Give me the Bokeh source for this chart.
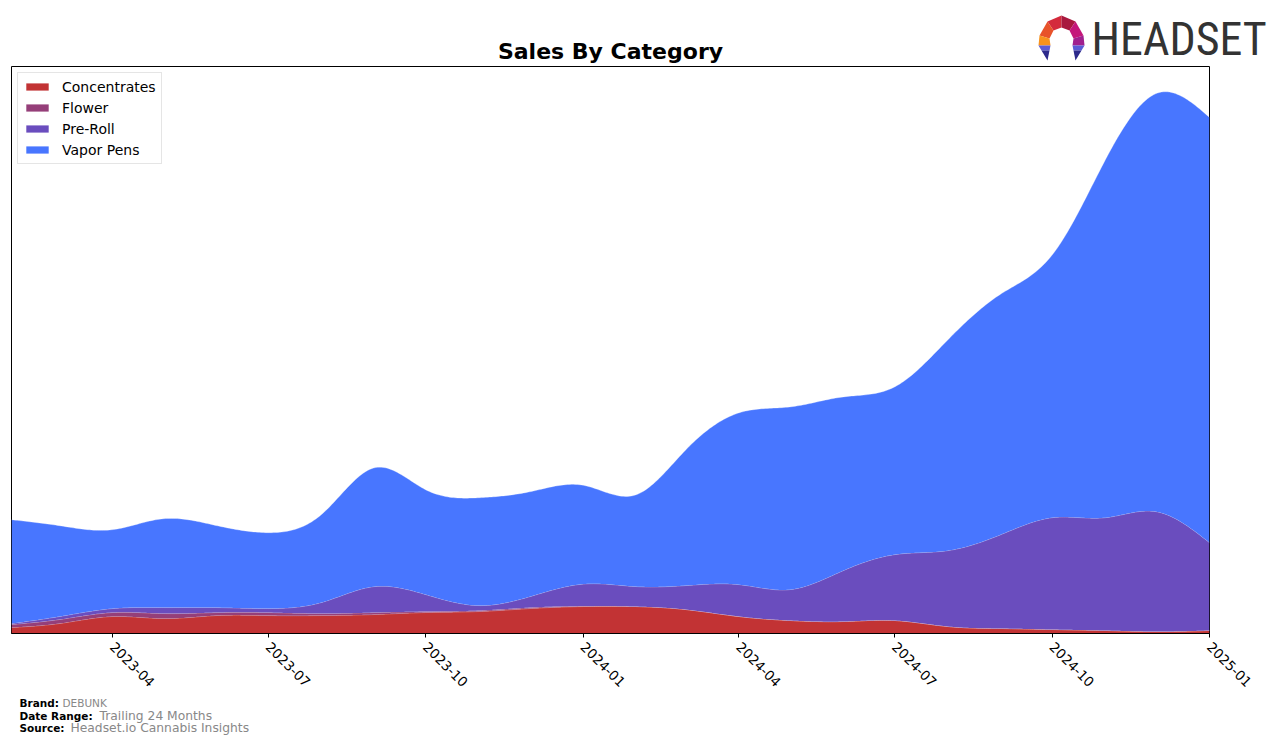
import numpy as np
import pandas as pd
from bokeh.plotting import figure
from bokeh.models import FixedTicker, DatetimeTickFormatter, Range1d
from bokeh.layouts import column
from bokeh.core.properties import value
from bokeh.embed import file_html
from bokeh.resources import INLINE

# ---------------- data (monthly) ----------------
months = pd.date_range("2023-02-01", "2025-01-01", freq="MS")
concentrates = [6, 10, 17, 15, 18, 18, 18, 19, 21, 22, 25, 27,
                27, 24, 17, 13, 12, 13, 7, 5, 4, 3, 2, 3]
flower = [3, 4, 4, 5, 3, 3, 2, 2, 1, 1, 1, 0.5,
          0, 0, 0, 0, 0, 0, 0, 0, 0, 0, 0, 0]
pre_roll = [1, 3, 4, 6, 5, 4, 11, 26, 17, 5, 11, 22,
            20, 24, 32, 31, 51, 66, 76, 94, 112, 113, 120, 88]
vapor_pens = [104, 91, 79, 89, 82, 76, 88, 119, 105, 108, 105, 99,
              92, 136, 172, 183, 174, 168, 211, 241, 263, 358, 419, 426]
series_names = ["Concentrates", "Flower", "Pre-Roll", "Vapor Pens"]
series_colors = ["#C23334", "#953F79", "#6A4DBE", "#4876FF"]
tick_dates = ["2023-04-01", "2023-07-01", "2023-10-01", "2024-01-01",
              "2024-04-01", "2024-07-01", "2024-10-01", "2025-01-01"]
title_text = "Sales By Category"
brand = "DEBUNK"
date_range = "Trailing 24 Months"
source = "Headset.io Cannabis Insights"

# ---------------- smooth rendering (natural cubic spline) ----------------
def natural_spline(x, y, xf):
    x = np.asarray(x, float); y = np.asarray(y, float)
    n = len(x); h = np.diff(x)
    A = np.zeros((n - 2, n - 2)); r = np.zeros(n - 2)
    for i in range(n - 2):
        A[i, i] = 2 * (h[i] + h[i + 1])
        if i + 1 < n - 2:
            A[i, i + 1] = h[i + 1]
            A[i + 1, i] = h[i + 1]
        r[i] = 6 * ((y[i + 2] - y[i + 1]) / h[i + 1] - (y[i + 1] - y[i]) / h[i])
    M = np.zeros(n); M[1:-1] = np.linalg.solve(A, r)
    idx = np.clip(np.searchsorted(x, xf) - 1, 0, n - 2)
    x0 = x[idx]; x1 = x[idx + 1]; hh = h[idx]
    return (M[idx] * (x1 - xf) ** 3 / (6 * hh) + M[idx + 1] * (xf - x0) ** 3 / (6 * hh)
            + (y[idx] / hh - M[idx] * hh / 6) * (x1 - xf)
            + (y[idx + 1] / hh - M[idx + 1] * hh / 6) * (xf - x0))

xms = months.values.astype("datetime64[ms]").astype(np.int64).astype(float)
xf = np.linspace(xms[0], xms[-1], 600)
smooth = [np.clip(natural_spline(xms, s, xf), 0, None)
          for s in (concentrates, flower, pre_roll, vapor_pens)]

# ---------------- layout geometry ----------------
W = 1276
FL, FR = 11, 1209
TOP_H = 66          # title/logo strip
MAIN_H = 628        # 568 frame + 60 axis
FOOT_H = 744 - TOP_H - MAIN_H


def canvas(h, y0):
    f = figure(width=W, height=h, x_range=Range1d(0, W), y_range=Range1d(y0 + h, y0),
               output_backend="svg", toolbar_location=None,
               x_axis_location=None, y_axis_location=None, min_border=0,
               frame_align=False)
    f.xgrid.visible = False
    f.ygrid.visible = False
    f.outline_line_color = None
    f.background_fill_color = "white"
    f.border_fill_color = "white"
    return f


def txt(f, s, x, y, size, bold=False, color="black", align="left", baseline="middle",
        font="DejaVu Sans"):
    f.text(x=[x], y=[y], text=[s], text_font=value(font), text_font_size=value(size),
           text_font_style="bold" if bold else "normal", text_color=color,
           text_align=align, text_baseline=baseline)


# ---------------- top strip: title + logo ----------------
top = canvas(TOP_H, 0)
txt(top, title_text, 610, 51, "22px", bold=True, align="center")
txt(top, "HEADSET", 1091, 38, "46px", color="#333333", baseline="middle",
    font="Roboto Condensed")

Pt, Ptl, Pl, Pbl = (1061, 15), (1047, 21), (1039, 35), (1038, 45)
Ptr, Pr, Pbr = (1075, 21), (1083, 35), (1084, 45)
Qt, Qtl, Ql, Qbl = (1061, 27), (1053, 30), (1049, 38), (1050, 45)
Qtr, Qr, Qbr = (1069, 30), (1073, 38), (1072, 45)
logo_parts = [
    ([Ptl, Pt, Qt, Qtl], "#D42A3C"),
    ([Pt, Ptr, Qtr, Qt], "#A8183E"),
    ([Ptl, Qtl, Ql, Pl], "#E8532A"),
    ([Pl, Ql, Qbl, Pbl], "#F7931E"),
    ([Ptr, Pr, Qr, Qtr], "#C4177A"),
    ([Pr, Pbr, Qbr, Qr], "#A0208E"),
    ([(1038, 45), (1050, 45), (1049, 50), (1041, 50)], "#5B5BD6"),
    ([(1041, 50), (1049, 50), (1047, 60)], "#2D2A8C"),
    ([(1072, 45), (1084, 45), (1081, 50), (1073, 50)], "#5B5BD6"),
    ([(1073, 50), (1081, 50), (1075, 60)], "#2D2A8C"),
]
top.patches(xs=[[a for a, _ in pts] for pts, _ in logo_parts],
            ys=[[b for _, b in pts] for pts, _ in logo_parts],
            fill_color=[c for _, c in logo_parts], line_color=None)

# ---------------- main chart ----------------
p = figure(width=W, height=MAIN_H, x_axis_type="datetime", y_axis_location=None,
           output_backend="svg", toolbar_location=None,
           min_border_left=FL, min_border_right=W - FR,
           min_border_top=0, min_border_bottom=MAIN_H - 568, frame_align=False)
p.x_range = Range1d(xms[0], xms[-1])
p.y_range = Range1d(0, 568)
p.xgrid.visible = False
p.ygrid.visible = False
p.outline_line_color = "black"
p.outline_line_width = 1
p.background_fill_color = "white"
p.border_fill_color = "white"

base = np.zeros_like(xf)
for name, col, s in zip(series_names, series_colors, smooth):
    topv = base + s
    p.varea(x=xf, y1=base, y2=topv, fill_color=col, fill_alpha=1.0, legend_label=name)
    p.line(x=xf, y=topv, line_color="white", line_alpha=0.3, line_width=1)
    base = topv

ax = p.xaxis[0]
ax.ticker = FixedTicker(ticks=[pd.Timestamp(d).value / 1e6 for d in tick_dates])
ax.formatter = DatetimeTickFormatter(years="%Y-%m", months="%Y-%m", days="%Y-%m",
                                     hours="%Y-%m", minutes="%Y-%m", seconds="%Y-%m",
                                     milliseconds="%Y-%m", microseconds="%Y-%m")
ax.major_label_orientation = -np.pi / 4
ax.major_label_text_font = "DejaVu Sans"
ax.major_label_text_font_size = "13.5px"
ax.major_label_text_color = "black"
ax.major_label_standoff = 7
ax.major_tick_out = 4
ax.major_tick_in = 0
ax.minor_tick_out = 0
ax.minor_tick_in = 0
ax.axis_line_color = "black"

lg = p.legend[0]
lg.location = "top_left"
lg.margin = 6
lg.padding = 5
lg.spacing = 4
lg.glyph_width = 28
lg.glyph_height = 9
lg.label_height = 17
lg.label_standoff = 11
lg.label_text_font = "DejaVu Sans"
lg.label_text_font_size = "14px"
lg.label_text_color = "black"
lg.border_line_color = "#cccccc"
lg.border_line_width = 1
lg.background_fill_alpha = 0.8

# ---------------- footer ----------------
foot = canvas(FOOT_H, TOP_H + MAIN_H)
txt(foot, "Brand:", 19, 702, "10.5px", bold=True)
txt(foot, brand, 62, 702, "10.5px", color="#888888")
txt(foot, "Date Range:", 19, 715, "10.5px", bold=True)
txt(foot, date_range, 99, 715, "12.3px", color="#888888")
txt(foot, "Source:", 19, 727, "10.5px", bold=True)
txt(foot, source, 70, 727, "12.3px", color="#888888")

layout = column(top, p, foot, spacing=0)
open("out.html", "w").write(file_html(layout, INLINE))
